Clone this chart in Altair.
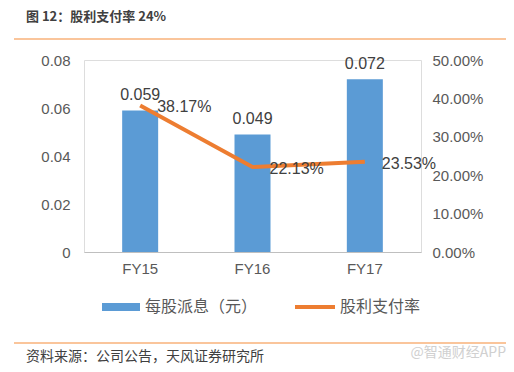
import altair as alt
import pandas as pd

years = ["FY15", "FY16", "FY17"]
dps = [0.059, 0.049, 0.072]
payout = [0.3817, 0.2213, 0.2353]

title_text = "图 12：股利支付率 24%"
source_text = "资料来源：公司公告，天风证券研究所"
watermark = "@智通财经APP"
legend_bar = "每股派息（元）"
legend_line = "股利支付率"

df = pd.DataFrame({"year": years, "dps": dps, "payout": payout})

CJK = "Noto Sans CJK SC"
NUM = "Liberation Sans"
BLUE = "#5B9BD5"
ORANGE = "#ED7D31"
GRAY = "#595959"

xenc = alt.X("year:N", sort=years, title=None,
             scale=alt.Scale(paddingInner=0.68, paddingOuter=0.34),
             axis=alt.Axis(labelAngle=0, labelFont=NUM, labelFontSize=15, labelColor=GRAY,
                           ticks=False, domainColor="#BFBFBF", domainWidth=1, labelPadding=9))

base = alt.Chart(df)

bars = base.mark_bar(color=BLUE, size=36).encode(
    x=xenc,
    y=alt.Y("dps:Q", title=None, scale=alt.Scale(domain=[0, 0.08]),
            axis=alt.Axis(orient="left", values=[0, 0.02, 0.04, 0.06, 0.08],
                          labelExpr="datum.value == 0 ? '0' : format(datum.value, '.2f')",
                          grid=False, domain=False, ticks=False, labelFont=NUM,
                          labelFontSize=15, labelColor=GRAY, labelPadding=14)),
)
bartext = base.mark_text(font=NUM, fontSize=16, color="#404040", baseline="bottom", dy=-7).encode(
    x=alt.X("year:N", sort=years),
    y=alt.Y("dps:Q", scale=alt.Scale(domain=[0, 0.08]), axis=None),
    text=alt.Text("dps:Q", format=".3f"),
)
line = base.mark_line(color=ORANGE, strokeWidth=4).encode(
    x=alt.X("year:N", sort=years),
    y=alt.Y("payout:Q", title=None, scale=alt.Scale(domain=[0, 0.5]),
            axis=alt.Axis(orient="right", values=[0, 0.1, 0.2, 0.3, 0.4, 0.5], format=".2%",
                          grid=False, domain=False, ticks=False, labelFont=NUM,
                          labelFontSize=15, labelColor=GRAY, labelPadding=11)),
)
linetext = base.mark_text(font=NUM, fontSize=16, color="#404040", align="left",
                          baseline="middle", dx=17, dy=2).encode(
    x=alt.X("year:N", sort=years),
    y=alt.Y("payout:Q", scale=alt.Scale(domain=[0, 0.5]), axis=None),
    text=alt.Text("payout:Q", format=".2%"),
)

one = alt.Chart(pd.DataFrame({"k": [0]}))

title = one.mark_text(font=CJK, fontSize=13, fontWeight="bold", color="#404040",
                      align="left", baseline="middle").encode(
    x=alt.value(-58), y=alt.value(-43), text=alt.value(title_text))
topline = one.mark_rule(color="#F8B27A", strokeWidth=1.5).encode(
    x=alt.value(-70), x2=alt.value(426), y=alt.value(-21))
botline = one.mark_rule(color="#F8B27A", strokeWidth=1.5).encode(
    x=alt.value(-70), x2=alt.value(426), y=alt.value(283))
source = one.mark_text(font=CJK, fontSize=14, color="#404040", align="left",
                       baseline="middle").encode(
    x=alt.value(-58), y=alt.value(297), text=alt.value(source_text))
wm = one.mark_text(font=CJK, fontSize=14, color="#D0D0D0", align="right",
                   baseline="middle").encode(
    x=alt.value(422), y=alt.value(293), text=alt.value(watermark))
leg_rect = one.mark_rect(color=BLUE).encode(
    x=alt.value(18), x2=alt.value(56), y=alt.value(243), y2=alt.value(251))
leg_t1 = one.mark_text(font=CJK, fontSize=16, color=GRAY, align="left",
                       baseline="middle").encode(
    x=alt.value(61), y=alt.value(247), text=alt.value(legend_bar))
leg_line = one.mark_rule(color=ORANGE, strokeWidth=4).encode(
    x=alt.value(211), x2=alt.value(251), y=alt.value(247))
leg_t2 = one.mark_text(font=CJK, fontSize=16, color=GRAY, align="left",
                       baseline="middle").encode(
    x=alt.value(256), y=alt.value(247), text=alt.value(legend_line))

chart = alt.layer(
    bars, bartext, line, linetext,
    title, topline, botline, source, wm, leg_rect, leg_t1, leg_line, leg_t2,
).resolve_scale(y="independent").properties(
    width=337, height=192,
    autosize=alt.AutoSizeParams(type="none"),
    padding={"left": 76, "top": 52, "right": 85, "bottom": 112},
).configure_view(stroke=None).configure(background="white")

chart.save("out.html", embed_options={"renderer": "svg", "actions": False})
